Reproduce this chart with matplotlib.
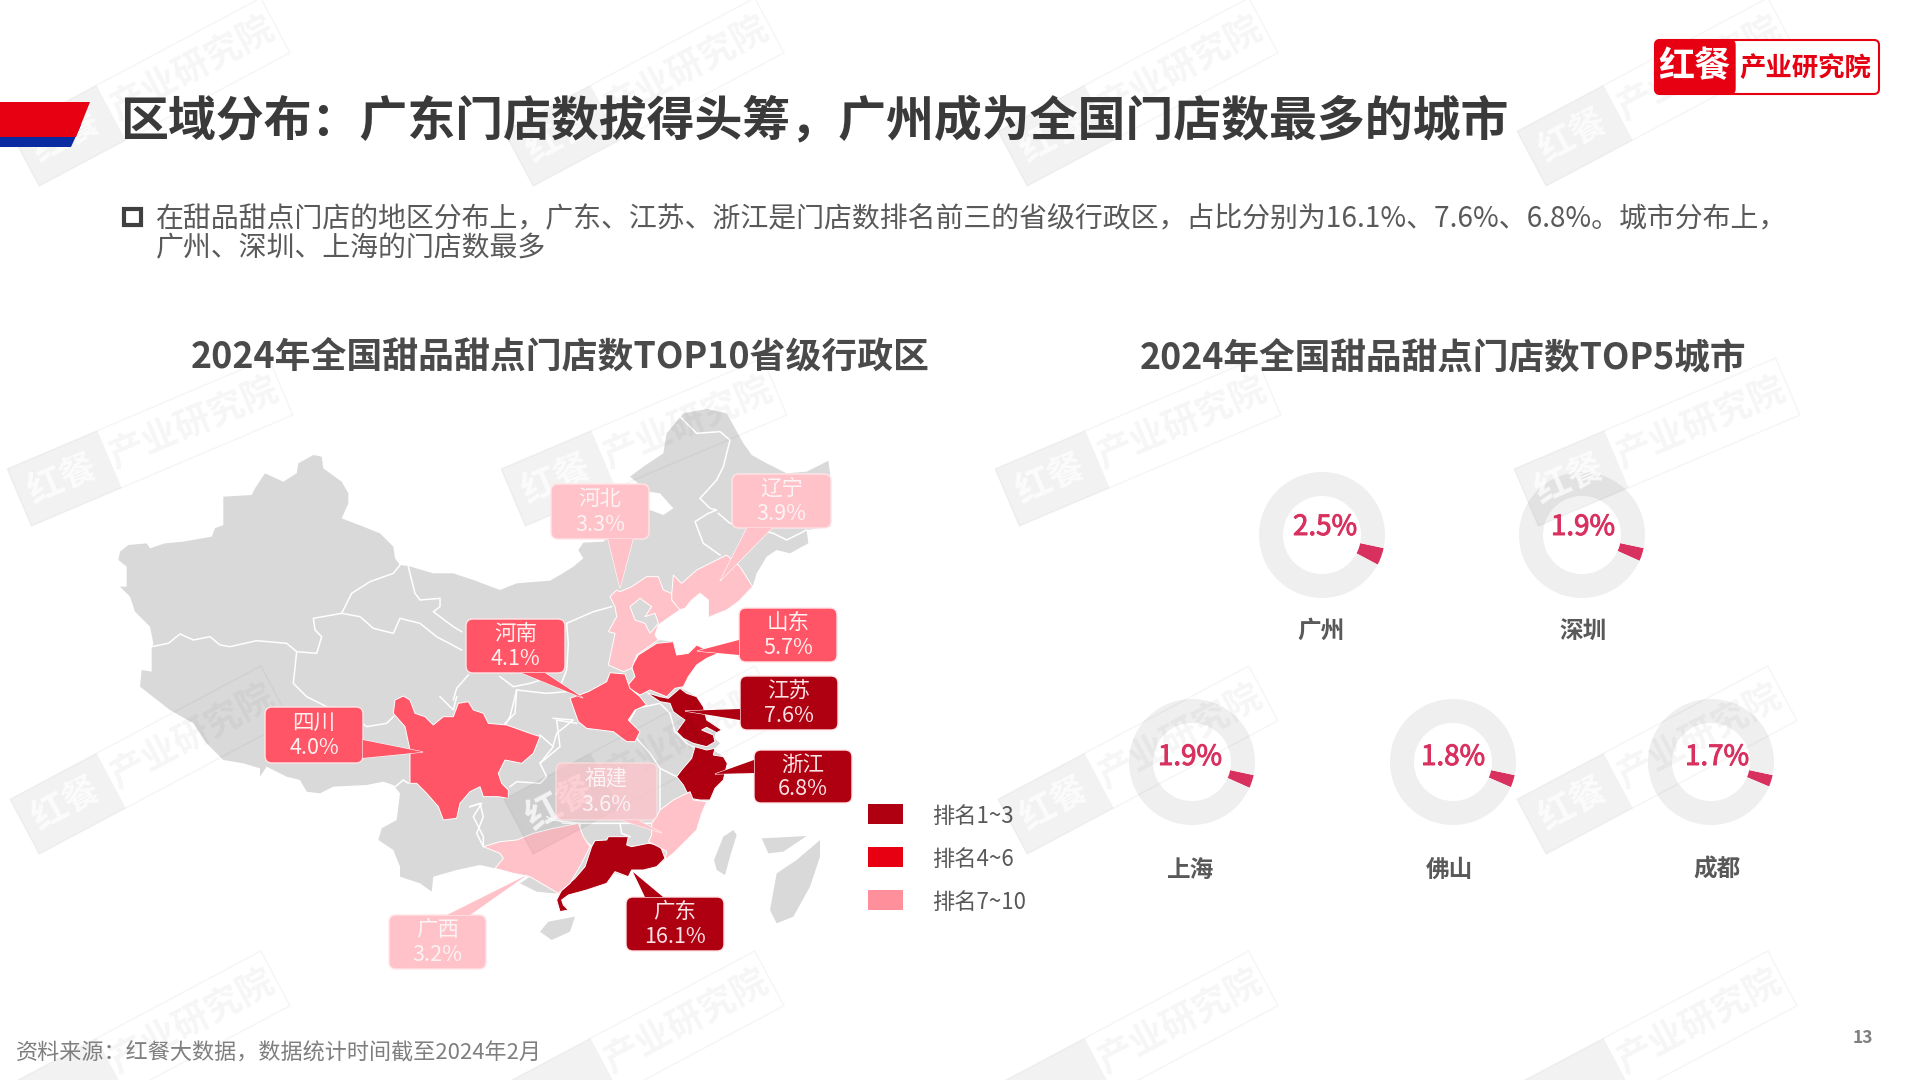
import matplotlib
matplotlib.use("Agg")
import matplotlib.pyplot as plt
import matplotlib.patheffects as pe
from matplotlib.patches import Polygon, FancyBboxPatch, Rectangle
from matplotlib.transforms import Affine2D

plt.rcParams['font.family'] = ['Noto Sans CJK SC', 'DejaVu Sans']

# ---------- data ----------
provinces = ['广东', '江苏', '浙江', '山东', '河南', '四川', '辽宁', '福建', '河北', '广西']
province_share = [16.1, 7.6, 6.8, 5.7, 4.1, 4.0, 3.9, 3.6, 3.3, 3.2]
province_rank_group = [0, 0, 0, 1, 1, 1, 2, 2, 2, 2]
legend_labels = ['排名1~3', '排名4~6', '排名7~10']
cities = ['广州', '深圳', '上海', '佛山', '成都']
city_share = [2.5, 1.9, 1.9, 1.8, 1.7]

title = '区域分布：广东门店数拔得头筹，广州成为全国门店数最多的城市'
body1 = '在甜品甜点门店的地区分布上，广东、江苏、浙江是门店数排名前三的省级行政区，占比分别为16.1%、7.6%、6.8%。城市分布上，'
body2 = '广州、深圳、上海的门店数最多'
map_title = '2024年全国甜品甜点门店数TOP10省级行政区'
city_title = '2024年全国甜品甜点门店数TOP5城市'
source = '资料来源：红餐大数据，数据统计时间截至2024年2月'

# ---------- style ----------
BOX = ['#AE0011', '#FF5566', '#FFC2C9']
FILL = ['#AE0011', '#FF5566', '#FFC2C9']
LEG = ['#AE0011', '#E60012', '#FF8F9B']
TXT = ['#FBE3E5', '#FFF0F0', '#FBF3F4']
GRAY = '#D9D9D9'
PINK = '#D8315F'

fig = plt.figure(figsize=(19.2, 10.8), dpi=100, facecolor='white')
ax = fig.add_axes([0, 0, 1, 1])
ax.set_xlim(0, 1920)
ax.set_ylim(1080, 0)
ax.axis('off')


def trace(x0, y0):
    return lambda pts: [(x0 + x / 3, y0 + y / 3) for x, y in pts]


A = trace(560, 410)
B = trace(520, 670)
C = trace(300, 620)
D = trace(100, 430)

# ---------- map geometry (traced outlines) ----------
outline = (
    D([(55,390),(60,365),(85,345),(140,340),(150,355),(195,340),(250,335),(335,320),(345,295),(370,285),(370,200),(455,195),(465,175),(495,130),(550,155),(590,130),(595,100),(640,75),(665,80),(670,115),(725,155),(745,190),(745,220),(725,265),(790,290),(840,310),(880,350),(885,385),(900,405),(925,408),(1000,430),(1060,430),(1120,450),(1200,480),(1250,460),(1350,452)])
    + A([(0,495),(40,470),(70,445),(55,420),(70,398),(130,395),(205,320),(270,300),(310,315),(340,295),(300,250),(265,245),(210,200),(250,170),(310,130),(320,70),(370,10),(441,-3),(500,10),(550,100),(575,135),(620,160),(680,190),(740,185),(780,165),(805,152),(810,190),(812,350),(740,360),(745,400),(690,430),(650,420),(620,440),(590,490),(578,530),(535,575),(500,600),(450,620),(435,645),(445,625),(445,570),(420,550),(395,570),(375,595),(355,600),(330,620),(295,645),(285,675),(295,690),(340,695),(350,735),(385,730),(410,705),(440,720),(475,730),(440,745),(410,765),(385,800),(370,830)])
    + B([(485,55),(530,80),(550,110),(560,150),(605,180),(585,190),(585,205),(600,220),(590,230),(580,240),(610,260),(620,280),(610,330),(585,355),(570,390),(560,395),(545,430),(530,480),(490,520),(460,550),(435,570),(410,590),(370,600),(335,600),(325,620),(285,610),(260,640),(200,660),(150,670),(100,670),(50,665),(0,640)])
    + C([(690,770),(640,760),(585,745),(540,735),(470,750),(400,770),(395,815),(360,790),(300,770),(300,740),(280,690),(235,660),(245,625),(290,600),(300,520),(280,495)])
    + D([(850,1055),(800,1065),(700,1070),(660,1090),(620,1085),(600,1050),(560,1040),(500,1010),(480,1040),(480,1015),(430,1000),(370,990),(320,940),(280,880),(210,840),(165,805),(120,770),(125,720),(155,725),(155,655),(160,640),(150,590),(105,545),(90,500),(60,470),(80,470),(80,410)])
)
islands = [
    B([(582,570),(610,500),(640,480),(650,495),(630,560),(615,615),(590,600)]),
    B([(60,785),(85,755),(165,740),(150,785),(95,810)]),
    B([(750,720),(770,610),(830,570),(900,510),(900,560),(870,650),(820,740),(770,760)]),
    B([(725,505),(860,498),(835,515),(790,545),(745,550)]),
]
shapes = {
    '广西': C([(550,680),(600,665),(650,660),(700,640),(760,625),(835,610),(850,650),(870,680),(845,730),(810,790),(775,820),(690,770),(640,760),(585,745),(610,715),(600,700)]),
    '广东': B([(215,530),(225,512),(260,510),(265,500),(325,500),(320,525),(335,530),(385,520),(420,525),(435,565),(410,590),(370,600),(335,600),(325,620),(285,605),(260,640),(200,660),(145,675),(125,690),(130,705),(145,720),(120,725),(110,690),(125,660),(165,625),(195,590)]),
    '福建': B([(420,420),(460,390),(510,365),(520,390),(560,395),(545,430),(530,480),(490,520),(460,550),(435,570),(440,545),(415,530),(385,515),(395,495),(395,460),(410,440)]),
    '浙江': B([(525,230),(560,240),(585,235),(580,255),(610,260),(622,280),(610,330),(585,355),(570,390),(540,390),(510,385),(490,345),(470,320),(485,300),(515,265)]),
    '江苏': B([(380,68),(420,80),(445,85),(480,55),(500,70),(530,80),(550,110),(560,150),(605,180),(590,188),(560,172),(545,180),(580,195),(585,215),(560,230),(520,220),(490,205),(470,185),(495,150),(480,140),(460,125),(450,100),(420,95)]),
    '山东': A([(215,770),(235,735),(290,700),(340,695),(350,735),(385,730),(410,705),(440,720),(475,730),(440,745),(410,765),(385,800),(370,830),(345,835),(320,860),(270,840),(240,855),(200,830),(225,800)]),
    '河南': B([(150,85),(205,65),(260,35),(270,8),(315,12),(330,55),(360,80),(380,105),(345,120),(325,150),(360,185),(345,215),(320,215),(280,185),(200,175),(175,155)]),
    '河北': A([(150,560),(170,540),(180,545),(215,530),(260,500),(295,500),(310,540),(335,550),(335,570),(360,600),(330,620),(295,645),(285,675),(295,690),(230,735),(215,775),(190,785),(145,765),(165,670),(145,665),(170,620),(165,590)]),
    '辽宁': A([(335,555),(340,495),(365,520),(410,480),(480,445),(500,435),(540,470),(578,530),(535,575),(500,600),(450,620),(435,645),(445,625),(445,570),(420,550),(395,570),(375,595),(355,600),(335,570)]),
    '四川': D([(880,850),(885,810),(910,798),(930,810),(945,850),(975,860),(1000,885),(1030,860),(1060,860),(1075,820),(1105,815),(1120,840),(1150,850),(1165,880),(1220,885),(1290,910),(1320,920),(1300,970),(1265,1000),(1215,990),(1195,1030),(1205,1060),(1225,1080),(1225,1105),(1195,1100),(1150,1100),(1140,1070),(1110,1085),(1080,1120),(1070,1165),(1030,1170),(1015,1130),(980,1090),(950,1060),(930,1060),(930,960),(915,890)]),
}
enclaves = A([(210,590),(240,565),(275,590),(255,620),(285,610),(295,640),(270,670),(255,640),(225,630)])
borders = [
    D([(155,650),(205,640),(240,612),(280,630),(330,620),(360,645),(390,650),(470,632),(560,640),(590,665),(650,670),(665,620),(645,600),(640,565),(725,550)]),
    D([(725,550),(755,490),(810,455),(880,430),(900,405)]),
    D([(925,410),(945,490),(960,510),(1020,505),(1020,530),(1000,545),(1060,590),(1085,605)]),
    D([(725,550),(780,560),(820,595),(880,610),(900,565),(960,580),(1010,620),(1085,660)]),
    D([(590,665),(580,760),(620,800),(680,830),(750,850),(800,890),(860,880),(880,860)]),
    D([(1105,735),(1070,775),(1060,810)]),
    D([(1020,800),(1060,840),(1070,800)]),
    D([(1250,780),(1245,850),(1215,880)]),
    D([(1200,740),(1240,770),(1290,760),(1340,745)]),
    D([(880,1075),(910,1050),(925,1060)]),
    D([(1110,1130),(1145,1120),(1120,1160),(1150,1220),(1150,1245)]),
    C([(510,560),(540,550),(550,590),(530,640),(550,680)]),
    C([(720,345),(760,380),(720,430),(740,470),(720,490),(650,485),(630,500)]),
    C([(760,295),(820,300),(770,340),(760,375)]),
    C([(650,210),(630,290),(615,315)]),
    C([(800,215),(740,220),(650,210)]),
    C([(740,590),(760,600),(835,610)]),
    B([(60,280),(120,230),(110,150),(170,160)]),
    B([(60,200),(0,260)]),
    B([(330,150),(350,115),(420,100),(450,130),(465,185),(500,220),(520,230)]),
    B([(350,205),(390,250),(420,295),(470,320)]),
    B([(420,300),(420,420)]),
    B([(180,460),(180,500),(215,530)]),
    B([(300,460),(305,490),(330,500)]),
    B([(105,440),(130,460),(180,460),(300,460),(395,460)]),
    A([(20,640),(25,700),(20,780),(0,830)]),
    A([(20,640),(100,605),(155,590)]),
    A([(360,20),(410,70),(480,65),(510,90),(490,170),(470,210),(420,265),(450,295),(470,300),(445,310),(405,335),(430,400),(480,435)]),
    A([(475,310),(510,340),(640,370),(680,390),(720,370),(740,360)]),
]

ax.add_patch(Polygon(outline, closed=True, fc=GRAY, ec='none', zorder=2))
for isl in islands:
    ax.add_patch(Polygon(isl, closed=True, fc=GRAY, ec='none', zorder=2))
for line in borders:
    xs, ys = zip(*line)
    ax.plot(xs, ys, color='white', lw=1.1, zorder=3)
for name, group in zip(provinces, province_rank_group):
    ax.add_patch(Polygon(shapes[name], closed=True, fc=FILL[group], ec='white', lw=0.7, zorder=4))
ax.add_patch(Polygon(enclaves, closed=True, fc=GRAY, ec='white', lw=0.7, zorder=4.5))

# ---------- callouts: box (x0,y0,x1,y1), tip, pointer base ----------
callouts = {
    '河北': ((551,484,649,539), (620,588), ((608,539),(633,539))),
    '辽宁': ((732,474,831,528), (720,581), ((747,528),(772,528))),
    '山东': ((739,608,837,662), (697,651), ((739,640),(739,655))),
    '河南': ((466,619,565,673), (583,698), ((522,673),(545,673))),
    '江苏': ((740,676,838,730), (685,711), ((740,709),(740,720))),
    '浙江': ((754,750,852,803), (715,774), ((754,760),(754,773))),
    '四川': ((265,707,363,763), (423,752), ((363,740),(363,758))),
    '福建': ((556,763,657,820), (662,833), ((620,820),(638,820))),
    '广东': ((626,897,724,951), (633,872), ((645,897),(663,897))),
    '广西': ((389,915,486,969), (527,875), ((447,915),(470,915))),
}
for name, v, group in zip(provinces, province_share, province_rank_group):
    (a, b, c, d), tip, base = callouts[name]
    alpha = 0.72 if name == '福建' else 1
    ax.add_patch(Polygon([base[0], tip, base[1]], closed=True, fc=BOX[group], ec='white', lw=0.8, alpha=alpha, zorder=6))
    ax.add_patch(FancyBboxPatch((a + 6, b + 6), c - a - 12, d - b - 12, boxstyle='round,pad=6,rounding_size=7',
                                fc=BOX[group], ec='#FFE4E7', lw=1, alpha=alpha, zorder=7))
    ax.add_patch(Polygon([base[0], tip, base[1]], closed=True, fc=BOX[group], ec='none', alpha=alpha, zorder=8))
    cx = (a + c) / 2
    ax.text(cx, b + (d - b) * 0.28, name, color=TXT[group], fontsize=15.5, ha='center', va='center', zorder=9)
    ax.text(cx, b + (d - b) * 0.74, f'{v}%', color=TXT[group], fontsize=15.5, ha='center', va='center', zorder=9)

# ---------- legend ----------
for i, (lab, col) in enumerate(zip(legend_labels, LEG)):
    y = 814 + i * 43
    ax.add_patch(Rectangle((868, y - 10), 35, 20, fc=col, ec='none', zorder=3))
    ax.text(932, y + 2, lab, color='#595959', fontsize=16, ha='left', va='center', zorder=3)

# ---------- donuts ----------
centers = [(1322, 535), (1582, 535), (1192, 762), (1453, 762), (1711, 762)]
label_pos = [(1321, 631), (1583, 631), (1191, 870), (1449, 870), (1717, 870)]
pct_pos = [(1325, 527), (1583, 527), (1190, 757), (1453, 757), (1717, 757)]
R = 63
SPAN = 1.78  # arc drawn slightly enlarged as in the reference
for city, v, (cx, cy), lp, pp in zip(cities, city_share, centers, label_pos, pct_pos):
    sub = fig.add_axes([(cx - R) / 1920, 1 - (cy + R) / 1080, 2 * R / 1920, 2 * R / 1080], zorder=1)
    sub.pie([v * SPAN, 100 - v * SPAN], colors=[PINK, '#EFEFEF'], startangle=-12, counterclock=False,
            radius=1, wedgeprops=dict(width=0.38, linewidth=0))
    sub.set_xlim(-1, 1)
    sub.set_ylim(-1, 1)
    sub.patch.set_alpha(0)
    ax.text(pp[0], pp[1], f'{v}%', color=PINK, fontsize=20, ha='center', va='center', zorder=9,
            path_effects=[pe.withStroke(linewidth=0.7, foreground=PINK)])
    ax.text(lp[0], lp[1], city, color='#595959', fontsize=17, fontweight='bold', ha='center', va='center', zorder=9)
ax.set_zorder(2)
ax.patch.set_alpha(0)

# ---------- header ----------
ax.add_patch(Polygon([(0, 137), (81, 125), (71, 147), (0, 147)], closed=True, fc='#0A2BA0', ec='none', zorder=8))
ax.add_patch(Polygon([(0, 102), (90, 102), (76, 137), (0, 137)], closed=True, fc='#E60012', ec='none', zorder=8.5))
ax.text(120, 120.5, title, color='#3A3A3A', fontsize=34.5, fontweight='bold', ha='left', va='center', zorder=9)

ax.add_patch(Rectangle((123.5, 209), 17, 16, fc='white', ec='#404040', lw=3, zorder=9))
ax.text(155.5, 219.5, body1, color='#595959', fontsize=20.12, ha='left', va='center', zorder=9)
ax.text(155.5, 248.5, body2, color='#595959', fontsize=20.12, ha='left', va='center', zorder=9)

ax.text(560, 357.5, map_title, color='#4A4A4A', fontsize=25.8, fontweight='bold', ha='center', va='center', zorder=9)
ax.text(1443, 357.5, city_title, color='#4A4A4A', fontsize=25.7, fontweight='bold', ha='center', va='center', zorder=9)

ax.text(16, 1054, source, color='#7F7F7F', fontsize=15.9, ha='left', va='center', zorder=9)
ax.text(1863, 1038, '13', color='#7F7F7F', fontsize=12.5, fontweight='bold', ha='center', va='center', zorder=9)

# ---------- logo ----------
ax.add_patch(FancyBboxPatch((1658, 43), 218, 48, boxstyle='round,pad=3,rounding_size=5', fc='white', ec='#E60012', lw=1.5, zorder=9))
ax.add_patch(FancyBboxPatch((1658, 43), 74, 48, boxstyle='round,pad=3,rounding_size=5', fc='#E60012', ec='#E60012', lw=1, zorder=9))
ax.text(1694, 67, '红餐', color='white', fontsize=26, fontweight='bold', ha='center', va='center', zorder=10)
ax.text(1805, 68, '产业研究院', color='#E60012', fontsize=19, fontweight='bold', ha='center', va='center', zorder=10)

# ---------- watermark tiles ----------
tile_xs = [150, 644, 1138, 1657]
tile_ys = [92, 442, 760, 1045]
tile_angles = [28, 23, 28, 28]
L, H = 284, 62
for wy, ang in zip(tile_ys, tile_angles):
    for wx in tile_xs:
        tr = Affine2D().rotate_deg_around(wx, wy, -ang) + ax.transData
        ax.add_patch(Rectangle((wx - L / 2, wy - H / 2), L, H, fc='none', ec='black', lw=1.2, alpha=0.035, transform=tr, zorder=5, clip_on=True))
        ax.add_patch(Rectangle((wx - L / 2, wy - H / 2), 98, H, fc='black', ec='none', alpha=0.05, transform=tr, zorder=5, clip_on=True))
        for along, txt, col, al in [(-95, '红餐', 'white', 0.75), (48, '产业研究院', 'black', 0.04)]:
            dx, dy = ax.transData.inverted().transform(tr.transform((wx + along, wy)))
            if dy > 1050 or dx < 30:
                continue
            ax.text(dx, dy, txt, color=col, alpha=al, fontsize=26, fontweight='bold', rotation=ang,
                    rotation_mode='anchor', ha='center', va='center', zorder=5, clip_on=True)

fig.savefig('out.png', dpi=100, facecolor='white')
